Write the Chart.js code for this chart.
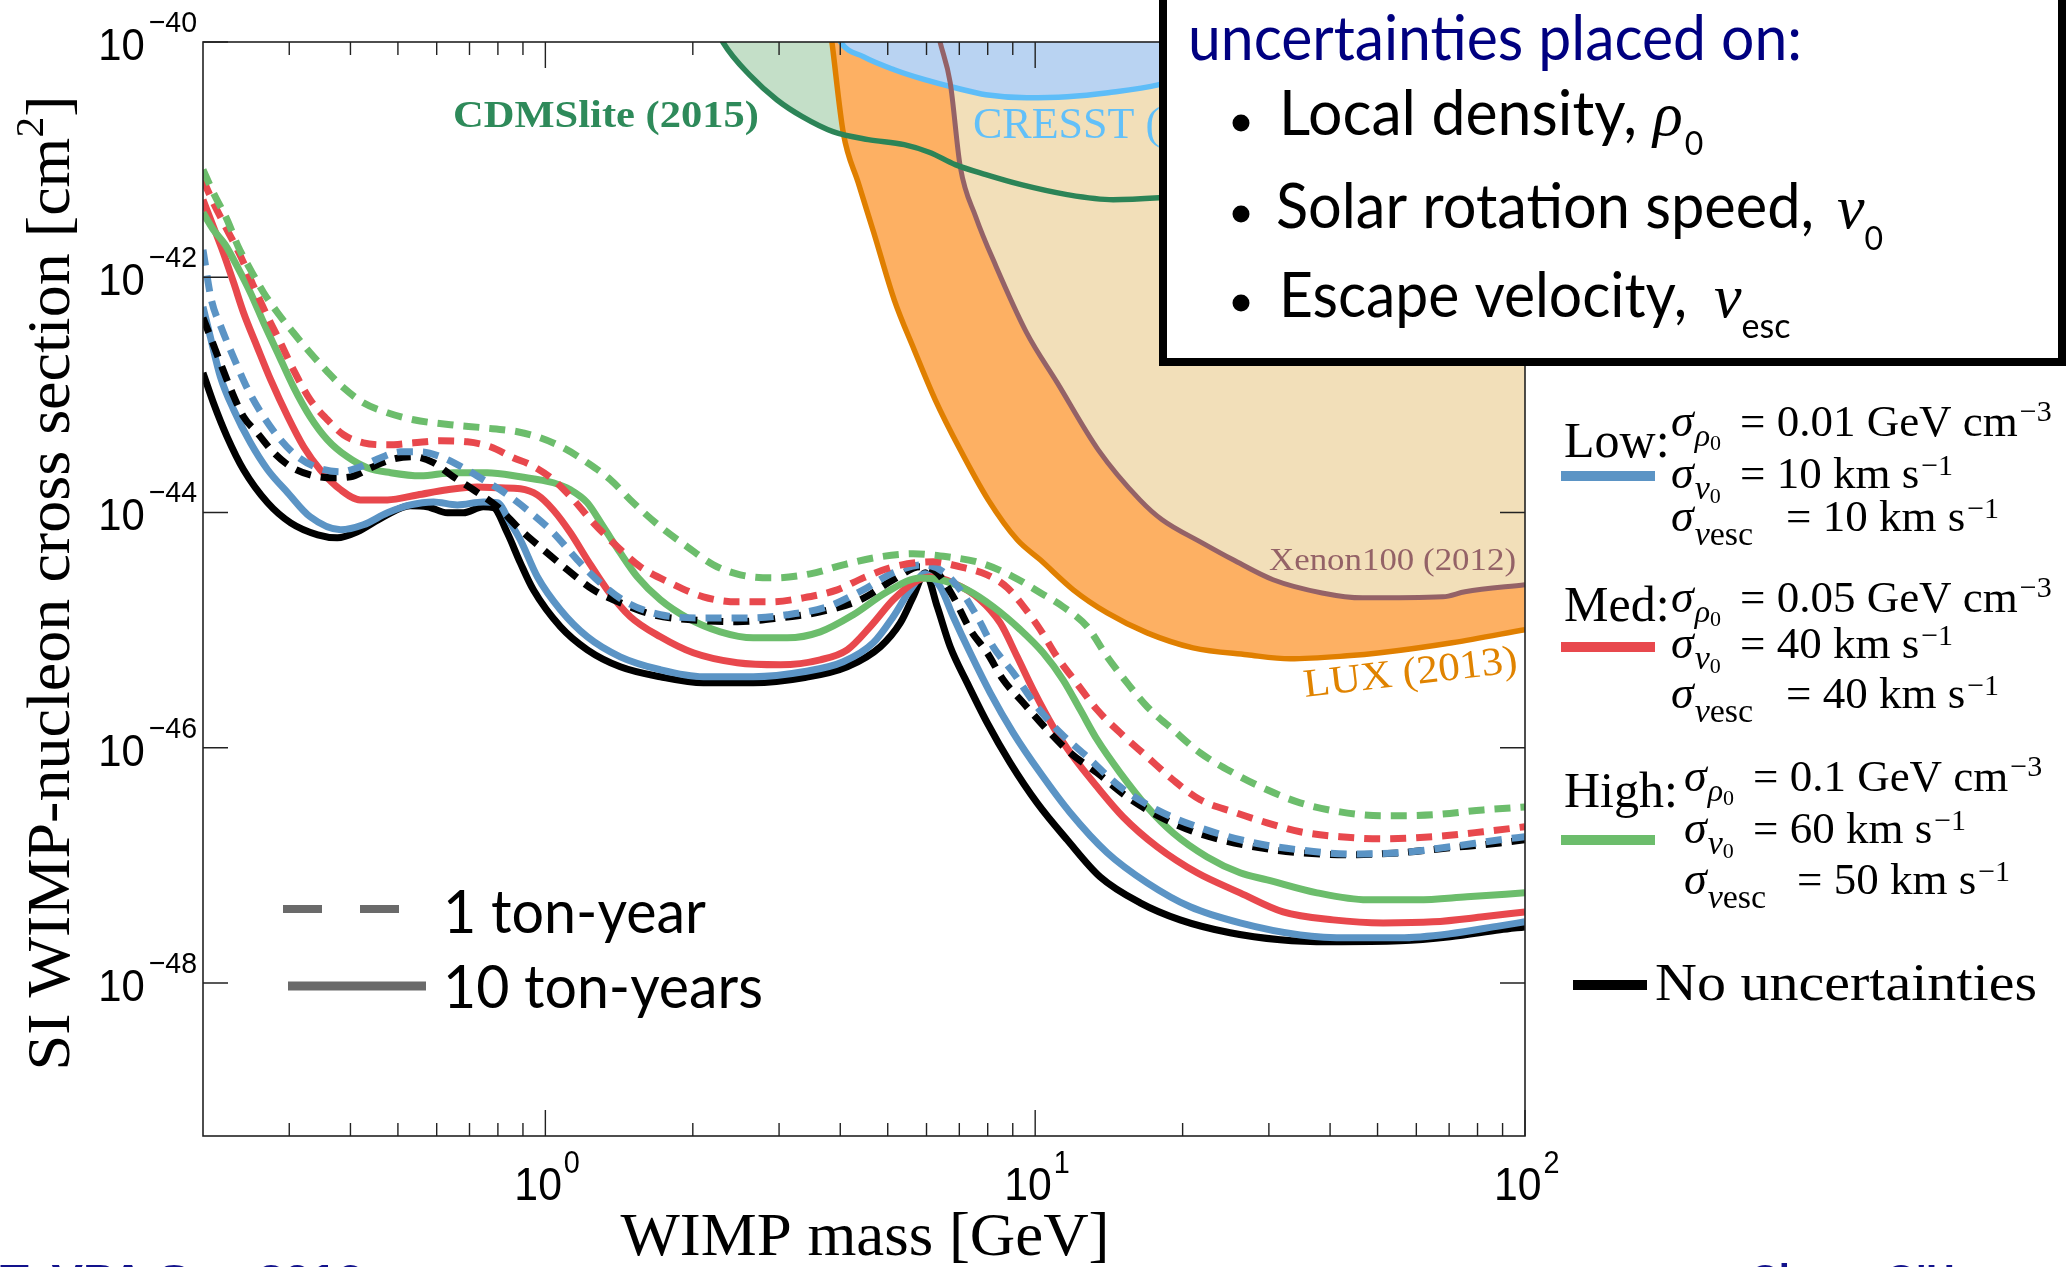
<!DOCTYPE html>
<html><head><meta charset="utf-8">
<script src="https://cdn.jsdelivr.net/npm/chart.js@4.4.1/dist/chart.umd.min.js"></script>
<style>html,body{margin:0;padding:0;background:#fff;overflow:hidden}canvas{display:block}</style>
</head><body>
<canvas id="c" width="2071" height="1267"></canvas>
<script>
// ---------- axis ticks ----------
const xTickValues = [1, 10, 100];
const xTickExps = ['0', '1', '2'];
const xMinorTicks = [0.3,0.4,0.5,0.6,0.7,0.8,0.9,2,3,4,5,6,7,8,9,20,30,40,50,60,70,80,90];
const yTickValues = [1e-40, 1e-42, 1e-44, 1e-46, 1e-48];
const yTickExps = ['\u221240', '\u221242', '\u221244', '\u221246', '\u221248'];

// ---------- projected sensitivity curves (mass in GeV, sigma in cm^2) ----------
// 10 ton-years, no uncertainties (black solid)
const massBlack10 = [0.200,0.210,0.224,0.242,0.271,0.302,0.343,0.376,0.413,0.467,0.530,0.574,0.631,0.680,0.747,0.783,0.836,0.889,0.945,1.073,1.218,1.422,1.717,2.101,2.657,3.361,4.134,4.828,5.304,5.636,5.964,6.310,6.707,7.264,7.980,8.892,10.09,11.62,13.57,16.38,19.76,25.00,31.62,39.99,55.59,70.31,88.92,100];
const sigBlack10 = [1.54e-43,8.57e-44,4.40e-44,2.31e-44,1.21e-44,8.17e-45,6.46e-45,6.09e-45,6.85e-45,9.19e-45,1.14e-44,1.12e-44,9.94e-45,9.94e-45,1.12e-44,1.10e-44,6.72e-45,3.73e-45,2.20e-45,1.07e-45,6.80e-46,4.88e-46,4.01e-46,3.56e-46,3.56e-46,3.93e-46,4.88e-46,7.21e-46,1.15e-45,1.92e-45,3.07e-45,1.58e-45,7.21e-46,3.56e-46,1.63e-46,7.44e-47,3.40e-47,1.65e-47,7.98e-48,4.80e-48,3.44e-48,2.67e-48,2.33e-48,2.24e-48,2.28e-48,2.47e-48,2.83e-48,3.00e-48];
// 10 ton-years, Low uncertainties (blue solid)
const massBlue10 = [0.200,0.207,0.217,0.231,0.250,0.271,0.298,0.331,0.382,0.425,0.476,0.530,0.591,0.661,0.747,0.798,0.848,0.889,0.963,1.073,1.218,1.422,1.717,2.101,2.657,3.361,4.057,4.672,5.131,5.559,5.964,6.399,6.803,7.366,8.094,9.019,10.24,11.79,14.03,16.93,20.72,26.20,34.75,43.95,55.59,70.31,88.92,100];
const sigBlue10 = [5.61e-43,3.12e-43,1.43e-43,7.47e-44,3.91e-44,2.31e-44,1.47e-44,9.19e-45,7.13e-45,7.86e-45,9.94e-45,1.16e-44,1.23e-44,1.16e-44,1.23e-44,1.21e-44,8.17e-45,5.86e-45,2.84e-45,1.49e-45,8.77e-46,5.93e-46,4.60e-46,4.01e-46,4.01e-46,4.42e-46,5.38e-46,7.80e-46,1.30e-45,2.20e-45,3.01e-45,2.33e-45,1.30e-45,6.41e-46,2.93e-46,1.34e-46,6.12e-47,2.80e-47,1.28e-47,7.10e-48,4.44e-48,3.24e-48,2.56e-48,2.42e-48,2.42e-48,2.62e-48,3.06e-48,3.31e-48];
// 10 ton-years, Med uncertainties (red solid)
const massRed10 = [0.200,0.210,0.220,0.231,0.242,0.258,0.275,0.298,0.321,0.347,0.382,0.419,0.476,0.548,0.631,0.726,0.809,0.889,0.963,1.038,1.125,1.218,1.338,1.491,1.717,2.004,2.465,3.018,3.641,4.134,4.606,5.131,5.636,6.106,6.803,7.722,8.484,9.190,9.906,10.88,11.96,13.38,15.12,17.74,21.41,26.20,32.07,40.57,51.31,64.90,82.10,100];
const sigRed10 = [4.56e-42,2.69e-42,1.62e-42,8.98e-43,4.99e-43,2.56e-43,1.34e-43,6.51e-44,3.62e-44,2.31e-44,1.56e-44,1.28e-44,1.28e-44,1.41e-44,1.56e-44,1.65e-44,1.62e-44,1.59e-44,1.41e-44,1.05e-44,6.72e-45,3.96e-45,2.20e-45,1.30e-45,8.77e-46,6.41e-46,5.27e-46,5.07e-46,5.59e-46,6.80e-46,1.07e-45,1.81e-45,2.52e-45,2.84e-45,2.52e-45,1.81e-45,1.15e-45,5.93e-46,3.11e-46,1.51e-46,8.37e-47,4.65e-47,2.58e-47,1.44e-47,8.64e-48,5.84e-48,4.02e-48,3.44e-48,3.24e-48,3.31e-48,3.65e-48,4.02e-48];
// 10 ton-years, High uncertainties (green solid)
const massGreen10 = [0.200,0.210,0.222,0.235,0.250,0.266,0.284,0.306,0.331,0.359,0.394,0.433,0.483,0.556,0.649,0.761,0.889,1.038,1.125,1.218,1.313,1.422,1.540,1.717,1.949,2.276,2.657,3.118,3.641,4.253,4.989,5.825,6.399,7.264,8.208,9.320,10.38,11.40,12.36,13.38,14.91,16.93,19.12,22.44,26.20,29.75,37.63,47.61,60.22,76.13,100];
const sigGreen10 = [3.54e-42,2.53e-42,1.89e-42,1.23e-42,7.38e-43,4.10e-43,2.28e-43,1.17e-43,6.51e-44,4.15e-44,2.98e-44,2.40e-44,2.18e-44,2.05e-44,2.18e-44,2.18e-44,2.01e-44,1.79e-44,1.56e-44,1.21e-44,7.56e-45,4.54e-45,2.84e-45,1.81e-45,1.27e-45,9.67e-46,8.60e-46,8.60e-46,9.67e-46,1.35e-45,2.12e-45,2.78e-45,2.68e-45,2.20e-45,1.58e-45,1.01e-45,6.41e-46,3.78e-46,2.10e-46,1.17e-46,6.12e-47,3.14e-47,1.89e-47,1.18e-47,8.64e-48,7.53e-48,5.84e-48,5.09e-48,5.09e-48,5.40e-48,5.84e-48];
// 1 ton-year, no uncertainties (black dashed)
const massBlack1 = [0.200,0.207,0.217,0.228,0.242,0.258,0.279,0.302,0.331,0.369,0.400,0.440,0.483,0.538,0.591,0.649,0.713,0.798,0.889,0.991,1.109,1.253,1.422,1.661,2.004,2.465,3.018,3.641,4.395,5.131,5.825,6.310,6.803,7.366,7.980,8.604,9.452,10.58,11.79,13.38,15.41,17.99,21.41,27.46,34.75,43.95,55.59,70.31,88.92,100];
const sigBlack1 = [4.53e-43,3.12e-43,1.87e-43,1.11e-43,6.51e-44,4.76e-44,3.22e-44,2.45e-44,2.09e-44,1.97e-44,2.01e-44,2.40e-44,2.81e-44,2.98e-44,2.65e-44,2.01e-44,1.56e-44,1.12e-44,7.13e-45,4.82e-45,3.26e-45,2.20e-45,1.71e-45,1.35e-45,1.22e-45,1.18e-45,1.27e-45,1.43e-45,1.81e-45,2.68e-45,3.45e-45,3.07e-45,1.92e-45,1.01e-45,6.41e-46,3.78e-46,2.41e-46,1.42e-46,9.05e-47,6.12e-47,3.82e-47,2.58e-47,1.89e-47,1.46e-47,1.28e-47,1.23e-47,1.28e-47,1.41e-47,1.55e-47,1.65e-47];
// 1 ton-year, Low (blue dashed)
const massBlue1 = [0.200,0.208,0.218,0.233,0.247,0.266,0.288,0.312,0.343,0.382,0.419,0.461,0.506,0.556,0.611,0.680,0.747,0.809,0.919,1.038,1.162,1.295,1.470,1.717,2.101,2.583,3.118,3.763,4.457,5.131,5.908,6.490,7.031,7.613,8.208,9.019,10.09,11.25,12.77,14.91,17.74,21.41,27.46,34.75,43.95,55.59,70.31,88.92,100];
const sigBlue1 = [1.71e-42,6.44e-43,3.72e-43,1.91e-43,1.11e-43,6.51e-44,4.15e-44,2.98e-44,2.40e-44,2.22e-44,2.45e-44,2.92e-44,3.28e-44,3.28e-44,2.98e-44,2.40e-44,1.90e-44,1.56e-44,1.05e-44,6.72e-45,3.96e-45,2.52e-45,1.71e-45,1.35e-45,1.27e-45,1.27e-45,1.35e-45,1.58e-45,2.20e-45,3.07e-45,3.59e-45,3.13e-45,2.20e-45,1.30e-45,7.21e-46,4.34e-46,2.23e-46,1.34e-46,8.37e-47,4.65e-47,2.96e-47,2.13e-47,1.58e-47,1.35e-47,1.25e-47,1.28e-47,1.44e-47,1.65e-47,1.75e-47];
// 1 ton-year, Med (red dashed)
const massRed1 = [0.200,0.210,0.224,0.239,0.254,0.271,0.288,0.306,0.331,0.359,0.387,0.425,0.476,0.538,0.611,0.693,0.772,0.860,0.932,1.038,1.141,1.253,1.403,1.563,1.799,2.101,2.465,2.879,3.361,3.944,4.457,5.131,6.193,7.031,7.980,8.768,9.452,10.24,11.09,12.18,13.38,14.91,16.93,19.12,21.72,25.36,29.75,34.75,41.93,51.31,64.90,82.10,100];
const sigRed1 = [6.75e-42,4.30e-42,2.53e-42,1.49e-42,8.30e-43,4.61e-43,2.77e-43,1.63e-43,9.08e-44,6.14e-44,4.58e-44,3.91e-44,3.76e-44,3.91e-44,4.07e-44,3.99e-44,3.62e-44,2.92e-44,2.55e-44,1.90e-44,1.28e-44,8.17e-45,5.11e-45,3.45e-45,2.52e-45,1.92e-45,1.74e-45,1.74e-45,1.88e-45,2.20e-45,2.78e-45,3.45e-45,3.81e-45,3.45e-45,2.95e-45,2.30e-45,1.60e-45,1.01e-45,5.90e-46,3.50e-46,2.10e-46,1.34e-46,8.37e-47,5.33e-47,3.61e-47,2.85e-47,2.30e-47,1.93e-47,1.75e-47,1.68e-47,1.75e-47,1.93e-47,2.13e-47];
// 1 ton-year, High (green dashed)
const massGreen1 = [0.200,0.210,0.224,0.236,0.250,0.266,0.284,0.306,0.331,0.359,0.387,0.425,0.476,0.538,0.640,0.747,0.877,0.963,1.088,1.218,1.357,1.512,1.717,1.949,2.203,2.500,2.919,3.474,4.057,4.828,5.636,6.613,7.722,9.019,10.24,11.40,12.77,14.03,15.41,16.93,19.12,21.72,25.36,29.75,34.75,41.93,51.31,64.90,82.10,100];
const sigGreen1 = [8.21e-42,5.23e-42,3.08e-42,1.82e-42,1.16e-42,7.38e-43,4.99e-43,3.37e-43,2.28e-43,1.57e-43,1.15e-43,8.57e-44,7.04e-44,6.14e-44,5.57e-44,5.25e-44,4.86e-44,4.40e-44,3.55e-44,2.65e-44,1.90e-44,1.21e-44,7.56e-45,5.11e-45,3.59e-45,2.95e-45,2.78e-45,3.01e-45,3.59e-45,4.20e-45,4.46e-45,4.20e-45,3.73e-45,2.84e-45,2.08e-45,1.58e-45,1.07e-45,5.93e-46,3.56e-46,2.23e-46,1.42e-46,9.05e-47,6.12e-47,4.39e-47,3.40e-47,2.85e-47,2.64e-47,2.69e-47,2.96e-47,3.14e-47];

// ---------- existing experimental limits ----------
const massCDMS = [2.192,2.308,2.633,2.968,3.346,3.865,4.562,5.403,6.095,6.867,7.932,9.363,11.62,14.43,17.91,27.46,43.95,100];
const sigCDMS = [1.55e-40,9.86e-41,5.07e-41,3.23e-41,2.32e-41,1.73e-41,1.48e-41,1.34e-41,1.15e-41,9.06e-42,7.45e-42,6.12e-42,5.04e-42,4.56e-42,4.74e-42,5.55e-42,7.45e-42,1.21e-41];
const massLUX = [3.746,3.846,4.057,4.353,4.683,5.155,5.664,6.251,7.031,8.018,9.19,10.24,11.96,14.03,16.93,21.01,27.08,33.15,43.33,50.6,70.96,100];
const sigLUX = [2.29e-40,1.0e-40,1.69e-41,6.35e-42,2.39e-42,6.43e-43,2.41e-43,9.08e-44,3.41e-44,1.28e-44,5.86e-45,3.96e-45,2.20e-45,1.40e-45,9.48e-46,7.07e-46,6.17e-46,5.70e-46,6.04e-46,6.41e-46,7.80e-46,1.01e-45];
const massXenon = [6.107,6.394,6.707,7.031,7.561,8.325,9.609,11.09,13.45,16.36,18.16,21.92,25.36,30.6,38.53,46.6,68.0,75.4,100];
const sigXenon = [2.29e-40,1.0e-40,4.51e-41,8.71e-42,3.27e-42,1.23e-42,3.37e-43,1.27e-43,3.41e-44,1.28e-44,8.67e-45,5.52e-45,3.96e-45,2.68e-45,2.07e-45,1.88e-45,1.92e-45,2.12e-45,2.43e-45];
const massCRESST = [3.907,4.005,4.457,5.155,5.951,6.867,7.932,9.609,11.62,14.09,17.91,23.86,31.6];
const sigCRESST = [1.27e-40,1.0e-40,7.50e-41,5.81e-41,4.78e-41,4.08e-41,3.56e-41,3.36e-41,3.43e-41,3.71e-41,4.34e-41,6.4e-41,1.26e-40];

// ---------- legend texts ----------
const legNames = ['Low:', 'Med:', 'High:'];
const sigRhoVals = ['0.01', '0.05', '0.1'];
const sigV0Vals = ['10', '40', '60'];
const sigEscVals = ['10', '40', '50'];
const boxTitle = 'uncertainties placed on:';
const boxItems = ['Local density,', 'Solar rotation speed,', 'Escape velocity,'];

// ---------- styles ----------
const BLUE = '#5b94c5', RED = '#e8484d', GREEN = '#6cbd6c', BLACK = '#000000';
const SERIF = '"Liberation Serif", "Times New Roman", serif';
const SANS = '"Liberation Sans", Arial, sans-serif';
const CMSS = 'Lato, "Open Sans", sans-serif';

function pts(m, s) { return m.map((v, i) => ({ x: v, y: s[i] })); }
function proj(m, s, color, dashed) {
  return { data: pts(m, s), borderColor: color, borderWidth: 7, borderDash: dashed ? [16, 10] : [],
    fill: false, pointRadius: 0, cubicInterpolationMode: 'monotone', borderCapStyle: 'butt', borderJoinStyle: 'round' };
}
function limLine(m, s, color, w) {
  return { data: pts(m, s), borderColor: color, borderWidth: w, fill: false, pointRadius: 0,
    cubicInterpolationMode: 'monotone', borderJoinStyle: 'round' };
}
function limFill(m, s, color) {
  return { data: pts(m, s), borderColor: 'rgba(0,0,0,0)', borderWidth: 0, backgroundColor: color, fill: 'end',
    pointRadius: 0, cubicInterpolationMode: 'monotone' };
}

function rich(ctx, parts, x, y, o) {
  o = o || {};
  ctx.save();
  ctx.translate(x, y);
  if (o.rot) ctx.rotate(o.rot);
  ctx.textBaseline = 'alphabetic';
  let total = 0;
  const ws = parts.map(p => { ctx.font = p.f; const w = ctx.measureText(p.t).width + (p.gap || 0); total += w; return w; });
  const sx = o.w ? o.w / total : (o.sx || 1);
  ctx.scale(sx, 1);
  let cx = o.align === 'center' ? -total / 2 : (o.align === 'right' ? -total : 0);
  parts.forEach((p, i) => { ctx.font = p.f; ctx.fillStyle = p.c || o.c || '#000'; ctx.fillText(p.t, cx, p.dy || 0); cx += ws[i]; });
  ctx.restore();
  return total * sx;
}
function seg(ctx, x1, y1, x2, y2, color, w) {
  ctx.save(); ctx.strokeStyle = color; ctx.lineWidth = w; ctx.lineCap = 'butt';
  ctx.beginPath(); ctx.moveTo(x1, y1); ctx.lineTo(x2, y2); ctx.stroke(); ctx.restore();
}

const deco = {
  id: 'deco',
  afterDatasetsDraw(chart) {
    const { ctx, chartArea: a, scales: { x, y } } = chart;
    ctx.save();
    ctx.strokeStyle = '#222'; ctx.lineWidth = 1.6;
    ctx.strokeRect(a.left, a.top, a.right - a.left, a.bottom - a.top);
    ctx.lineWidth = 1.4;
    ctx.beginPath();
    xTickValues.forEach(v => { const p = x.getPixelForValue(v); ctx.moveTo(p, a.bottom); ctx.lineTo(p, a.bottom - 26); ctx.moveTo(p, a.top); ctx.lineTo(p, a.top + 26); });
    xMinorTicks.forEach(v => { const p = x.getPixelForValue(v); ctx.moveTo(p, a.bottom); ctx.lineTo(p, a.bottom - 13); ctx.moveTo(p, a.top); ctx.lineTo(p, a.top + 13); });
    yTickValues.forEach(v => { const p = y.getPixelForValue(v); ctx.moveTo(a.left, p); ctx.lineTo(a.left + 25, p); ctx.moveTo(a.right, p); ctx.lineTo(a.right - 25, p); });
    ctx.stroke();
    ctx.restore();

    // experiment labels
    rich(ctx, [{ t: 'CDMSlite (2015)', f: 'bold 38px ' + SERIF }], 453, 127, { w: 306, c: '#2e8a5a' });
    rich(ctx, [{ t: 'CRESST (2015)', f: '44px ' + SERIF }], 973, 138, { c: '#62c0f9' });
    rich(ctx, [{ t: 'Xenon100 (2012)', f: '32px ' + SERIF }], 1269, 570, { w: 247, c: '#946267' });
    rich(ctx, [{ t: 'LUX (2013)', f: '40px ' + SERIF }], 1305, 697, { w: 215, c: '#e08300', rot: -0.117 });

    // exposure legend (bottom left)
    seg(ctx, 283, 909, 322, 909, '#6a6a6a', 8);
    seg(ctx, 360, 909, 399, 909, '#6a6a6a', 8);
    seg(ctx, 288, 986, 426, 986, '#6a6a6a', 9);
    rich(ctx, [{ t: '1 ton-year', f: '60px ' + CMSS }], 443, 933, { w: 263 });
    rich(ctx, [{ t: '10 ton-years', f: '60px ' + CMSS }], 443, 1008, { w: 320 });
  },
  afterDraw(chart) {
    const { ctx, scales: { x, y } } = chart;
    // tick labels
    yTickValues.forEach((v, i) => {
      const p = y.getPixelForValue(v);
      rich(ctx, [{ t: '10', f: '44px ' + SANS, gap: 4 }, { t: yTickExps[i], f: '30px ' + SANS, dy: -28 }], 197, p + 18, { align: 'right', sx: 0.95 });
    });
    xTickValues.forEach((v, i) => {
      const p = x.getPixelForValue(v);
      rich(ctx, [{ t: '10', f: '46px ' + SANS, gap: 2 }, { t: xTickExps[i], f: '31px ' + SANS, dy: -27 }], p - 31, 1200, { sx: 0.93 });
    });
    // axis titles
    rich(ctx, [{ t: 'WIMP mass [GeV]', f: '62px ' + SERIF }], 865, 1255, { align: 'center', w: 489 });
    rich(ctx, [{ t: 'SI WIMP-nucleon cross section [cm', f: '62px ' + SERIF }, { t: '2', f: '40px ' + SERIF, dy: -26 }, { t: ']', f: '62px ' + SERIF }],
      69, 583, { align: 'center', w: 975, rot: -Math.PI / 2 });

    // uncertainty legend (right)
    const colors = [BLUE, RED, GREEN];
    const lay = [
      { name: 457, line: 476, rows: [436, 488, 531], sx: 1671, eq: [1740, 1740, 1786] },
      { name: 621, line: 647, rows: [612, 658, 708], sx: 1671, eq: [1740, 1740, 1786] },
      { name: 807, line: 840, rows: [791, 843, 894], sx: 1684, eq: [1753, 1753, 1797] }
    ];
    lay.forEach((L, i) => {
      rich(ctx, [{ t: legNames[i], f: '50px ' + SERIF }], 1564, L.name);
      seg(ctx, 1561, L.line, 1655, L.line, colors[i], 10);
      rich(ctx, [{ t: '\u03c3', f: 'italic 46px ' + SERIF, gap: 1 }, { t: '\u03c1', f: 'italic 32px ' + SERIF, dy: 10 }, { t: '0', f: '22px ' + SERIF, dy: 14 }], L.sx, L.rows[0]);
      rich(ctx, [{ t: '= ' + sigRhoVals[i] + ' GeV cm', f: '45px ' + SERIF, gap: 2 }, { t: '\u22123', f: '30px ' + SERIF, dy: -15 }], L.eq[0], L.rows[0]);
      rich(ctx, [{ t: '\u03c3', f: 'italic 46px ' + SERIF, gap: 1 }, { t: 'v', f: 'italic 34px ' + SERIF, dy: 11 }, { t: '0', f: '22px ' + SERIF, dy: 15 }], L.sx, L.rows[1]);
      rich(ctx, [{ t: '= ' + sigV0Vals[i] + ' km s', f: '45px ' + SERIF, gap: 2 }, { t: '\u22121', f: '30px ' + SERIF, dy: -13 }], L.eq[1], L.rows[1]);
      rich(ctx, [{ t: '\u03c3', f: 'italic 46px ' + SERIF, gap: 1 }, { t: 'v', f: 'italic 34px ' + SERIF, dy: 14 }, { t: 'esc', f: '34px ' + SERIF, dy: 14 }], L.sx, L.rows[2]);
      rich(ctx, [{ t: '= ' + sigEscVals[i] + ' km s', f: '45px ' + SERIF, gap: 2 }, { t: '\u22121', f: '30px ' + SERIF, dy: -13 }], L.eq[2], L.rows[2]);
    });
    seg(ctx, 1573, 985, 1647, 985, BLACK, 10);
    rich(ctx, [{ t: 'No uncertainties', f: '52px ' + SERIF }], 1655, 1000, { w: 382 });

    // box
    ctx.save();
    ctx.fillStyle = '#fff'; ctx.fillRect(1159, 0, 907, 366);
    ctx.strokeStyle = '#000'; ctx.lineWidth = 8; ctx.strokeRect(1163, -20, 899, 382);
    ctx.restore();
    rich(ctx, [{ t: boxTitle, f: '62px ' + CMSS }], 1188, 60, { w: 614, c: '#000080' });
    const by = [135, 228, 317], bw = [358, 538, 408], bx = [1279, 1276, 1279], dotY = [123, 214, 303];
    boxItems.forEach((s, i) => {
      ctx.save(); ctx.fillStyle = '#000'; ctx.beginPath(); ctx.arc(1241, dotY[i], 8.5, 0, Math.PI * 2); ctx.fill(); ctx.restore();
      rich(ctx, [{ t: s, f: '62px ' + CMSS }], bx[i], by[i], { w: bw[i] });
    });
    rich(ctx, [{ t: '\u03c1', f: 'italic 62px ' + SERIF, gap: 2 }, { t: '0', f: '32px ' + CMSS, dy: 20 }], 1653, 135);
    rich(ctx, [{ t: 'v', f: 'italic 62px ' + SERIF, gap: 0 }, { t: '0', f: '32px ' + CMSS, dy: 22 }], 1837, 228);
    rich(ctx, [{ t: 'v', f: 'italic 62px ' + SERIF, gap: 0 }, { t: 'esc', f: '34px ' + CMSS, dy: 21 }], 1714, 317);

    // footer (cut off at bottom)
    rich(ctx, [{ t: 'TeVPA Sep 2016', f: 'bold 40px ' + SANS }], 0, 1293, { w: 363, c: '#12128c' });
    rich(ctx, [{ t: "Ciaran O'Hare", f: 'bold 40px ' + SANS }], 1750, 1293, { w: 265, c: '#12128c' });
  }
};

new Chart(document.getElementById('c'), {
  type: 'line',
  data: {
    datasets: [
      proj(massGreen1, sigGreen1, GREEN, true),
      proj(massRed1, sigRed1, RED, true),
      proj(massBlue1, sigBlue1, BLUE, true),
      proj(massBlack1, sigBlack1, BLACK, true),
      proj(massGreen10, sigGreen10, GREEN, false),
      proj(massRed10, sigRed10, RED, false),
      proj(massBlue10, sigBlue10, BLUE, false),
      proj(massBlack10, sigBlack10, BLACK, false),
      limLine(massCDMS, sigCDMS, '#2c8457', 5.5),
      limLine(massXenon, sigXenon, '#946267', 5),
      limLine(massCRESST, sigCRESST, '#5ebdf8', 5.5),
      limLine(massLUX, sigLUX, '#e07f00', 5.5),
      limFill(massCRESST, sigCRESST, '#b9d3f2'),
      limFill(massXenon, sigXenon, '#f2dfb9'),
      limFill(massLUX, sigLUX, '#fdb063'),
      limFill(massCDMS, sigCDMS, '#c4dfc8')
    ]
  },
  options: {
    responsive: false, animation: false, devicePixelRatio: 1,
    layout: { padding: { left: 0, top: 42, right: 546, bottom: 0 } },
    plugins: { legend: { display: false }, tooltip: { enabled: false }, filler: { propagate: false, drawTime: 'beforeDatasetsDraw' } },
    scales: {
      x: { type: 'logarithmic', min: 0.2, max: 100, ticks: { display: false }, grid: { display: false }, border: { display: false },
        afterFit: s => { s.height = 131; } },
      y: { type: 'logarithmic', min: 5.0e-50, max: 1e-40, ticks: { display: false }, grid: { display: false }, border: { display: false },
        afterFit: s => { s.width = 203; } }
    }
  },
  plugins: [deco]
});
</script>
</body></html>
